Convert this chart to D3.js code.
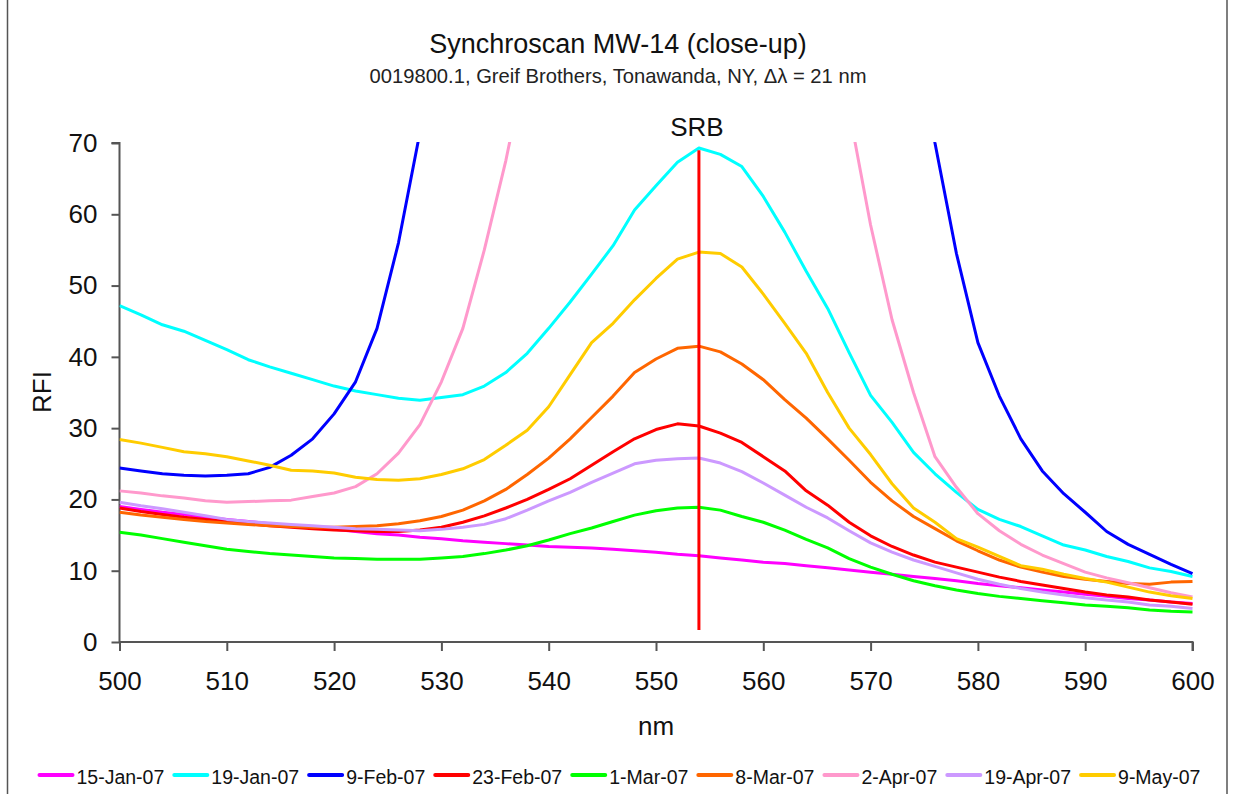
<!DOCTYPE html>
<html>
<head>
<meta charset="utf-8">
<script src="https://cdn.jsdelivr.net/npm/d3@7"></script>
<style>
  html, body { margin: 0; padding: 0; background: #fff; }
  svg { display: block; font-family: "Liberation Sans", Arial, sans-serif; }
</style>
</head>
<body>
<svg id="chart" width="1233" height="794"></svg>
<script>
// Synchronous-scan fluorescence, sampled every 2 nm from 500 to 600 nm.
const wavelengths = d3.range(500, 601, 2);

const seriesNames = ["15-Jan-07", "19-Jan-07", "9-Feb-07", "23-Feb-07", "1-Mar-07",
                     "8-Mar-07", "2-Apr-07", "19-Apr-07", "9-May-07"];
const seriesColors = ["#FF00FF", "#00FFFF", "#0000FF", "#FF0000", "#00FF00",
                      "#FF6600", "#FF99CC", "#CC99FF", "#FFCC00"];

const jan15 = [19.0, 18.6, 18.2, 17.9, 17.5, 17.2, 16.9, 16.6, 16.3, 16.1,
               15.8, 15.5, 15.2, 15.0, 14.7, 14.5, 14.2, 14.0, 13.8, 13.6,
               13.4, 13.3, 13.2, 13.0, 12.8, 12.6, 12.3, 12.1, 11.8, 11.5,
               11.2, 11.0, 10.7, 10.4, 10.1, 9.8, 9.5, 9.2, 8.9, 8.6,
               8.2, 7.9, 7.6, 7.3, 7.0, 6.7, 6.4, 6.1, 5.9, 5.6, 5.4];
const jan19 = [47.2, 45.9, 44.5, 43.6, 42.3, 41.0, 39.6, 38.6, 37.7, 36.8,
               35.9, 35.2, 34.7, 34.2, 33.9, 34.3, 34.7, 35.9, 37.8, 40.5,
               44.0, 47.7, 51.6, 55.6, 60.6, 64.0, 67.3, 69.3, 68.4, 66.7,
               62.5, 57.5, 52.0, 46.8, 40.6, 34.6, 30.8, 26.6, 23.6, 21.0,
               18.6, 17.2, 16.2, 14.9, 13.6, 12.9, 12.0, 11.3, 10.4, 9.9, 9.2];
// Readings above the 70 RFI ceiling of this close-up are left out (null).
const feb9 = [24.4, 24.0, 23.6, 23.4, 23.3, 23.4, 23.6, 24.5, 26.2, 28.5,
              32.0, 36.5, 44.0, 56.0, 71.5, null, null, null, null, null,
              null, null, null, null, null, null, null, null, null, null,
              null, null, null, null, null, null, null, 90.0, 70.0, 54.5,
              42.0, 34.5, 28.5, 24.0, 20.8, 18.2, 15.5, 13.7, 12.3, 10.9, 9.6];
const feb23 = [18.8, 18.3, 17.9, 17.5, 17.2, 16.9, 16.6, 16.3, 16.1, 15.9,
               15.7, 15.6, 15.5, 15.5, 15.7, 16.1, 16.8, 17.7, 18.8, 20.0,
               21.4, 22.9, 24.8, 26.7, 28.5, 29.8, 30.6, 30.3, 29.3, 28.0,
               26.0, 24.0, 21.2, 19.2, 16.8, 14.9, 13.4, 12.2, 11.2, 10.5,
               9.8, 9.1, 8.5, 8.0, 7.5, 7.0, 6.6, 6.3, 5.9, 5.6, 5.3];
const mar1 = [15.4, 15.0, 14.5, 14.0, 13.5, 13.0, 12.7, 12.4, 12.2, 12.0,
              11.8, 11.7, 11.6, 11.6, 11.6, 11.8, 12.0, 12.4, 12.9, 13.5,
              14.3, 15.2, 16.0, 16.9, 17.8, 18.4, 18.8, 18.9, 18.5, 17.6,
              16.8, 15.7, 14.4, 13.2, 11.7, 10.5, 9.5, 8.6, 7.9, 7.3,
              6.8, 6.4, 6.1, 5.8, 5.5, 5.2, 5.0, 4.8, 4.5, 4.3, 4.2];
const mar8 = [18.2, 17.8, 17.5, 17.2, 16.9, 16.7, 16.5, 16.3, 16.2, 16.1,
              16.1, 16.2, 16.3, 16.6, 17.0, 17.6, 18.5, 19.8, 21.4, 23.5,
              25.8, 28.5, 31.5, 34.5, 37.8, 39.7, 41.2, 41.5, 40.7, 39.0,
              36.8, 34.0, 31.4, 28.5, 25.5, 22.4, 19.8, 17.6, 15.9, 14.2,
              12.8, 11.5, 10.5, 9.8, 9.2, 8.8, 8.5, 8.2, 8.1, 8.4, 8.5];
const apr2 = [21.2, 20.9, 20.5, 20.2, 19.8, 19.6, 19.7, 19.8, 19.9, 20.4,
              20.9, 21.8, 23.6, 26.5, 30.5, 36.5, 44.0, 55.0, 67.5, 82.0,
              null, null, null, null, null, null, null, null, null, null,
              null, null, null, 90.0, 74.5, 58.5, 45.2, 35.0, 26.0, 21.7,
              18.0, 15.6, 13.7, 12.2, 11.0, 9.8, 9.0, 8.3, 7.6, 6.9, 6.3];
const apr19 = [19.6, 19.1, 18.7, 18.2, 17.7, 17.2, 16.9, 16.7, 16.5, 16.3,
               16.1, 15.9, 15.8, 15.7, 15.6, 15.8, 16.1, 16.5, 17.3, 18.5,
               19.8, 21.0, 22.4, 23.7, 25.0, 25.5, 25.7, 25.8, 25.1, 23.9,
               22.3, 20.6, 18.9, 17.4, 15.6, 13.9, 12.6, 11.5, 10.6, 9.7,
               8.8, 8.1, 7.5, 7.0, 6.6, 6.2, 5.9, 5.6, 5.2, 5.0, 4.7];
const may9 = [28.4, 27.9, 27.3, 26.7, 26.4, 26.0, 25.4, 24.8, 24.1, 24.0,
              23.7, 23.1, 22.8, 22.7, 22.9, 23.5, 24.3, 25.6, 27.6, 29.7,
              33.0, 37.5, 42.0, 44.7, 48.0, 51.0, 53.7, 54.7, 54.5, 52.6,
              48.8, 44.7, 40.5, 35.0, 30.0, 26.3, 22.2, 18.8, 16.8, 14.5,
              13.3, 12.0, 10.7, 10.2, 9.5, 8.9, 8.4, 7.7, 7.0, 6.5, 6.1];

const seriesValues = [jan15, jan19, feb9, feb23, mar1, mar8, apr2, apr19, may9];

const xTicks = [500, 510, 520, 530, 540, 550, 560, 570, 580, 590, 600];
const yTicks = [0, 10, 20, 30, 40, 50, 60, 70];

// SRB marker line
const srbLabel = "SRB";
const srbNm = 554;
const srbRange = [1.7, 69.0];

const titleText = "Synchroscan MW-14 (close-up)";
const subtitleText = "0019800.1, Greif Brothers, Tonawanda, NY, \u0394\u03BB = 21 nm";

// ---- layout ----
const svg = d3.select("#chart");
const plot = { left: 119.5, right: 1192.5, top: 143, bottom: 642 };

const x = d3.scaleLinear().domain([500, 600]).range([plot.left, plot.right]);
const y = d3.scaleLinear().domain([0, 70]).range([plot.bottom, plot.top]);

// outer frame
svg.append("rect")
  .attr("x", 7.5).attr("y", -2)
  .attr("width", 1219.5).attr("height", 800)
  .attr("fill", "#fff").attr("stroke", "#555").attr("stroke-width", 1.5);

// titles
svg.append("text")
  .attr("x", 618).attr("y", 53)
  .attr("text-anchor", "middle")
  .attr("font-size", 27).attr("fill", "#111")
  .text(titleText);
svg.append("text")
  .attr("x", 618).attr("y", 83)
  .attr("text-anchor", "middle")
  .attr("font-size", 20.2).attr("fill", "#222")
  .text(subtitleText);

// clipping to the plot area
svg.append("defs").append("clipPath").attr("id", "plotClip")
  .append("rect")
  .attr("x", plot.left).attr("y", plot.top - 1)
  .attr("width", plot.right - plot.left + 2)
  .attr("height", plot.bottom - plot.top + 1);

// axes
const yAxis = d3.axisLeft(y).tickValues(yTicks).tickSize(8).tickPadding(14)
  .tickFormat(d3.format("d"));
const xAxis = d3.axisBottom(x).tickValues(xTicks).tickSize(9).tickPadding(21)
  .tickFormat(d3.format("d"));

const gy = svg.append("g").attr("transform", `translate(${plot.left},0)`).call(yAxis);
const gx = svg.append("g").attr("transform", `translate(0,${plot.bottom})`).call(xAxis);

[gx, gy].forEach(g => {
  g.select(".domain").attr("stroke", "#555").attr("stroke-width", 2);
  g.selectAll(".tick line").attr("stroke", "#555").attr("stroke-width", 2);
  g.selectAll(".tick text")
    .attr("font-family", "'Liberation Sans', Arial, sans-serif")
    .attr("font-size", 26).attr("fill", "#111");
});
gy.select(".domain").attr("d", `M-8,${y(70)}H0V${plot.bottom}`);
gx.select(".domain").attr("d", `M${plot.left},0H${plot.right}V9`);

// axis titles
svg.append("text")
  .attr("transform", "translate(51,392) rotate(-90)")
  .attr("text-anchor", "middle")
  .attr("font-size", 26).attr("fill", "#111")
  .text("RFI");
svg.append("text")
  .attr("x", 656).attr("y", 735)
  .attr("text-anchor", "middle")
  .attr("font-size", 26).attr("fill", "#111")
  .text("nm");

// series lines
const line = d3.line()
  .defined(d => d.v !== null)
  .x(d => x(d.nm))
  .y(d => y(d.v));

const gLines = svg.append("g").attr("clip-path", "url(#plotClip)");
seriesValues.forEach((vals, i) => {
  const pts = wavelengths.map((nm, k) => ({ nm, v: vals[k] }));
  gLines.append("path")
    .datum(pts)
    .attr("d", line)
    .attr("fill", "none")
    .attr("stroke", seriesColors[i])
    .attr("stroke-width", 3)
    .attr("stroke-linejoin", "round");
});

// SRB marker
svg.append("line")
  .attr("x1", x(srbNm)).attr("x2", x(srbNm))
  .attr("y1", y(srbRange[0])).attr("y2", y(srbRange[1]))
  .attr("stroke", "#FF0000").attr("stroke-width", 3);
svg.append("text")
  .attr("x", x(srbNm) - 2).attr("y", 136)
  .attr("text-anchor", "middle")
  .attr("font-size", 26).attr("fill", "#111")
  .text(srbLabel);

// legend
const legend = svg.append("g");
let lx = 39.5;
const ly = 775;
seriesNames.forEach((name, i) => {
  legend.append("line")
    .attr("x1", lx).attr("x2", lx + 33)
    .attr("y1", ly).attr("y2", ly)
    .attr("stroke", seriesColors[i]).attr("stroke-width", 4)
    .attr("stroke-linecap", "round");
  const t = legend.append("text")
    .attr("x", lx + 37).attr("y", ly + 8.5)
    .attr("font-size", 19.5).attr("fill", "#111")
    .text(name);
  lx = lx + 37 + t.node().getComputedTextLength() + 10;
});
</script>
</body>
</html>
